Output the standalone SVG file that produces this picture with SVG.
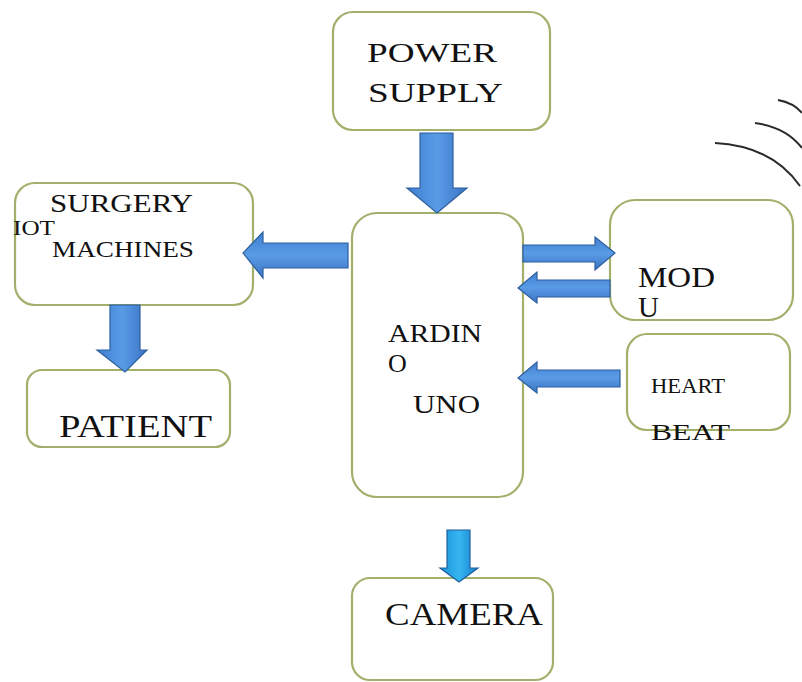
<svg xmlns="http://www.w3.org/2000/svg" width="802" height="682" viewBox="0 0 802 682">
<defs>
<linearGradient id="gv" x1="0" y1="0" x2="1" y2="0">
<stop offset="0" stop-color="#3f7fd0"/><stop offset="0.5" stop-color="#5a9be6"/><stop offset="1" stop-color="#3a74c4"/>
</linearGradient>
<linearGradient id="gh" x1="0" y1="0" x2="0" y2="1">
<stop offset="0" stop-color="#3f7fd0"/><stop offset="0.5" stop-color="#5a9be6"/><stop offset="1" stop-color="#3a74c4"/>
</linearGradient>
<linearGradient id="gc" x1="0" y1="0" x2="1" y2="0">
<stop offset="0" stop-color="#1a8fd8"/><stop offset="0.5" stop-color="#35b6f0"/><stop offset="1" stop-color="#1a7fd0"/>
</linearGradient>
<style>
.box{fill:#ffffff;stroke:#a3b06c;stroke-width:2.2}
.t{font-family:"Liberation Serif","Times New Roman",serif;fill:#111111}
.av{fill:url(#gv);stroke:#2d5f9e;stroke-width:1.2}
.ah{fill:url(#gh);stroke:#2d5f9e;stroke-width:1.2}
.ac{fill:url(#gc);stroke:#1f5f9e;stroke-width:1.2}
.arc{fill:none;stroke:#2a2a2a;stroke-width:2}
</style>
</defs>
<rect width="802" height="682" fill="#ffffff"/>
<g id="waves">
<path class="arc" d="M715,143 Q772,146 800,186"/>
<path class="arc" d="M755,123 Q786,127 802,148"/>
<path class="arc" d="M778,100 Q794,103 802,113"/>
</g>
<g id="power-supply">
<rect class="box" x="333" y="12" width="217" height="118" rx="20"/>
<text class="t" x="367" y="62" font-size="28" textLength="130" lengthAdjust="spacingAndGlyphs">POWER</text>
<text class="t" x="368" y="102" font-size="28" textLength="135" lengthAdjust="spacingAndGlyphs">SUPPLY</text>
</g>
<g id="arduino-uno">
<rect class="box" x="352" y="213" width="171" height="284" rx="25"/>
<text class="t" x="388" y="342" font-size="26" textLength="94" lengthAdjust="spacingAndGlyphs">ARDIN</text>
<text class="t" x="388" y="372" font-size="26">O</text>
<text class="t" x="413" y="413" font-size="26" textLength="67" lengthAdjust="spacingAndGlyphs">UNO</text>
</g>
<g id="surgery-iot-machines">
<rect class="box" x="15" y="183" width="238" height="122" rx="20"/>
<text class="t" x="50" y="212" font-size="25" textLength="143" lengthAdjust="spacingAndGlyphs">SURGERY</text>
<text class="t" x="13" y="235" font-size="22" textLength="42" lengthAdjust="spacingAndGlyphs">IOT</text>
<text class="t" x="52" y="257" font-size="23" textLength="142" lengthAdjust="spacingAndGlyphs">MACHINES</text>
</g>
<g id="patient">
<rect class="box" x="27" y="370" width="203" height="77" rx="15"/>
<text class="t" x="59" y="437" font-size="31" textLength="153" lengthAdjust="spacingAndGlyphs">PATIENT</text>
</g>
<g id="modu">
<rect class="box" x="610" y="200" width="183" height="120" rx="25"/>
<text class="t" x="638" y="287" font-size="29" textLength="77" lengthAdjust="spacingAndGlyphs">MOD</text>
<text class="t" x="638" y="317" font-size="29">U</text>
</g>
<g id="heart-beat">
<rect class="box" x="627" y="334" width="163" height="96" rx="20"/>
<text class="t" x="651" y="393" font-size="20" textLength="74" lengthAdjust="spacingAndGlyphs">HEART</text>
<text class="t" x="651" y="440" font-size="24" textLength="79" lengthAdjust="spacingAndGlyphs">BEAT</text>
</g>
<g id="camera">
<rect class="box" x="352" y="578" width="201" height="102" rx="18"/>
<text class="t" x="385" y="625" font-size="32" textLength="158" lengthAdjust="spacingAndGlyphs">CAMERA</text>
</g>
<g id="connectors">
<polygon class="av" points="420,133 453,133 453,188 467,188 437,213 407,188 420,188"/>
<polygon class="ah" points="348,243 348,268 263,268 263,278 243,253 263,232 263,243"/>
<polygon class="av" points="110,305 140,305 140,350 147,350 125,372 97,350 110,350"/>
<polygon class="ah" points="523,245 595,245 595,237 615,253 595,270 595,262 523,262"/>
<polygon class="ah" points="610,280 537,280 537,272 518,288 537,303 537,297 610,297"/>
<polygon class="ah" points="620,370 537,370 537,362 518,378 537,393 537,387 620,387"/>
<polygon class="ac" points="447,530 470,530 470,568 478,568 459,582 440,568 447,568"/>
</g>
</svg>
